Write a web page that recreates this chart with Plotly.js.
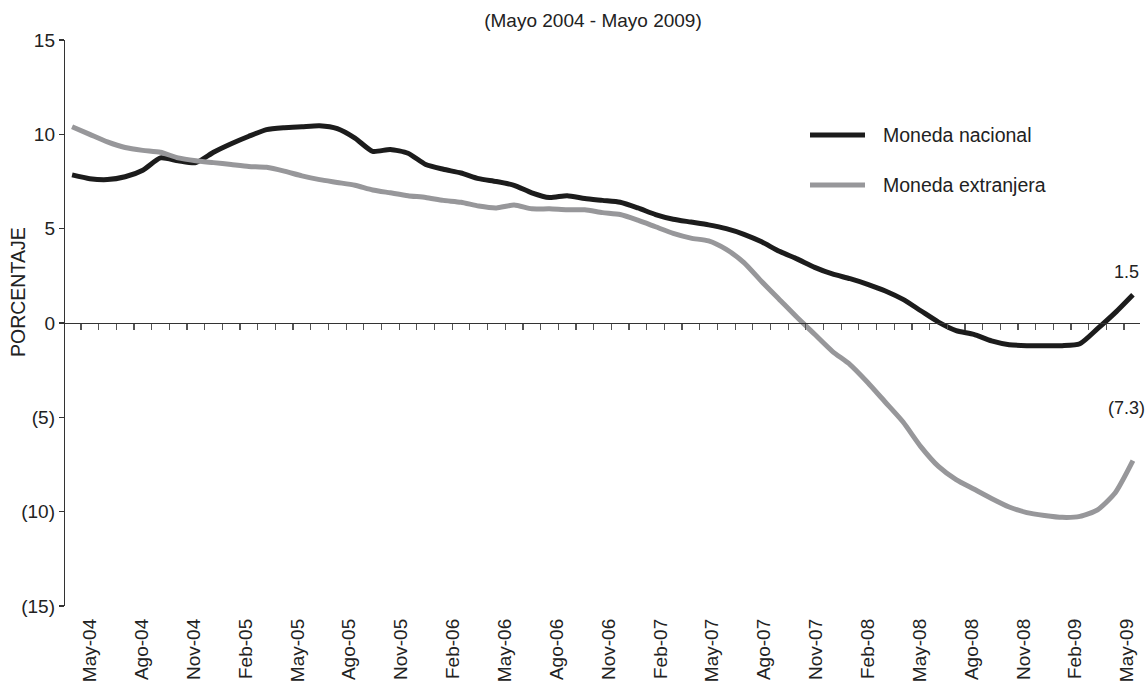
<!DOCTYPE html>
<html>
<head>
<meta charset="utf-8">
<script src="https://cdn.plot.ly/plotly-3.0.1.min.js"></script>
<style>html,body{margin:0;padding:0;background:#fff;}#chart{width:1147px;height:683px;}</style>
</head>
<body>
<div id="chart"></div>
<script>
// Monthly index 0 = May-04 ... 60 = May-09
const months = Array.from({length: 61}, (_, i) => i);
const tickLabels = ["May-04","Ago-04","Nov-04","Feb-05","May-05","Ago-05","Nov-05","Feb-06","May-06","Ago-06","Nov-06","Feb-07","May-07","Ago-07","Nov-07","Feb-08","May-08","Ago-08","Nov-08","Feb-09","May-09"];
const tickPositions = tickLabels.map((_, i) => i * 3);
const seriesNames = ["Moneda nacional", "Moneda extranjera"];
const nacional = [7.85,7.65,7.6,7.75,8.1,8.75,8.6,8.5,9.05,9.5,9.9,10.25,10.35,10.4,10.45,10.3,9.8,9.1,9.2,9.0,
  8.4,8.15,7.95,7.65,7.5,7.3,6.9,6.65,6.75,6.6,6.5,6.4,6.1,5.75,5.5,5.35,5.2,5.0,4.7,4.3,
  3.8,3.4,2.95,2.6,2.35,2.05,1.7,1.25,0.65,0.05,-0.4,-0.6,-0.95,-1.15,-1.2,-1.2,-1.2,-1.1,-0.3,0.55,1.5];
const extranjera = [10.4,10.0,9.6,9.3,9.15,9.05,8.75,8.6,8.5,8.4,8.3,8.25,8.05,7.8,7.6,7.45,7.3,7.05,6.9,6.75,
  6.65,6.5,6.4,6.2,6.1,6.25,6.05,6.05,6.0,6.0,5.85,5.75,5.45,5.1,4.75,4.5,4.35,3.9,3.2,2.2,
  1.25,0.3,-0.6,-1.5,-2.2,-3.15,-4.2,-5.25,-6.55,-7.6,-8.3,-8.8,-9.3,-9.75,-10.05,-10.2,-10.3,-10.25,-9.9,-9.0,-7.3];
const yTickVals = [-15,-10,-5,0,5,10,15];
const yTickText = ["(15)","(10)","(5)","0","5","10","15"];
const colors = ["#1c1c1c", "#97979a"];

function fmt(v){ return v < 0 ? "(" + Math.abs(v).toFixed(1) + ")" : v.toFixed(1); }

const font = "Liberation Sans, Arial, sans-serif";
const fs = 19;
const traces = [
  {x: months, y: nacional, name: seriesNames[0], type: "scatter", mode: "lines",
   line: {color: colors[0], width: 5, shape: "spline", smoothing: 0.6}},
  {x: months, y: extranjera, name: seriesNames[1], type: "scatter", mode: "lines",
   line: {color: colors[1], width: 5, shape: "spline", smoothing: 0.6}},
  {x: [0, 60], y: [null, null], xaxis: "x2", yaxis: "y", showlegend: false, hoverinfo: "skip", mode: "lines"}
];

const lastN = nacional[nacional.length - 1];
const lastE = extranjera[extranjera.length - 1];

const layout = {
  width: 1147, height: 683,
  margin: {l: 65, r: 7, t: 40, b: 77},
  paper_bgcolor: "#fff", plot_bgcolor: "#fff",
  font: {family: font, size: fs, color: "#222"},
  showlegend: false,
  title: {text: "(Mayo 2004 - Mayo 2009)", x: 0.517, xref: "container", xanchor: "center",
          y: 0.97, yref: "container", yanchor: "middle", font: {family: font, size: fs, color: "#222"}},
  xaxis: {
    range: [-0.4, 60.4], anchor: "free", position: 0.5, showgrid: false, zeroline: false,
    showline: true, linecolor: "#333", linewidth: 1.2,
    ticks: "outside", ticklen: 6, tickcolor: "#555", tickwidth: 1.2,
    tick0: 0.5, dtick: 1, showticklabels: false
  },
  xaxis2: {
    overlaying: "x", anchor: "y", side: "bottom", range: [-1.446, 60.75],
    showgrid: false, zeroline: false, showline: false, ticks: "",
    tickmode: "array", tickvals: tickPositions, ticktext: tickLabels,
    tickangle: -90, ticklabelstandoff: 8, tickfont: {family: font, size: fs, color: "#222"}
  },
  yaxis: {
    range: [-15, 15], showgrid: false, zeroline: false,
    showline: true, linecolor: "#333", linewidth: 1.2,
    ticks: "outside", ticklen: 5, tickcolor: "#333", tickwidth: 1.2,
    tickmode: "array", tickvals: yTickVals, ticktext: yTickText,
    tickfont: {family: font, size: fs, color: "#222"}
  },
  shapes: [
    {type: "line", xref: "paper", yref: "paper", x0: (810-65)/1075, x1: (865-65)/1075,
     y0: (606-135)/566, y1: (606-135)/566, line: {color: colors[0], width: 5}},
    {type: "line", xref: "paper", yref: "paper", x0: (810-65)/1075, x1: (865-65)/1075,
     y0: (606-185)/566, y1: (606-185)/566, line: {color: colors[1], width: 5}}
  ],
  annotations: [
    {text: seriesNames[0], xref: "paper", yref: "paper", x: (881-65)/1075, y: (606-135)/566,
     xanchor: "left", yanchor: "middle", showarrow: false, font: {family: font, size: 19.5, color: "#222"}},
    {text: seriesNames[1], xref: "paper", yref: "paper", x: (881-65)/1075, y: (606-185)/566,
     xanchor: "left", yanchor: "middle", showarrow: false, font: {family: font, size: 19.5, color: "#222"}},
    {text: "PORCENTAJE", xref: "paper", yref: "paper", x: (18-65)/1075, y: (606-292)/566,
     xanchor: "center", yanchor: "middle", textangle: -90, showarrow: false, font: {family: font, size: 19.5, color: "#222"}},
    {text: fmt(lastN), x: 60, y: lastN, xref: "x", yref: "y", showarrow: false, yshift: 23, xshift: -6,
     font: {family: font, size: 18, color: "#222"}},
    {text: fmt(lastE), x: 60, y: lastE, xref: "x", yref: "y", showarrow: false, yshift: 53, xshift: -6,
     font: {family: font, size: 18, color: "#222"}}
  ]
};

Plotly.newPlot("chart", traces, layout, {displayModeBar: false, staticPlot: true});
</script>
</body>
</html>
